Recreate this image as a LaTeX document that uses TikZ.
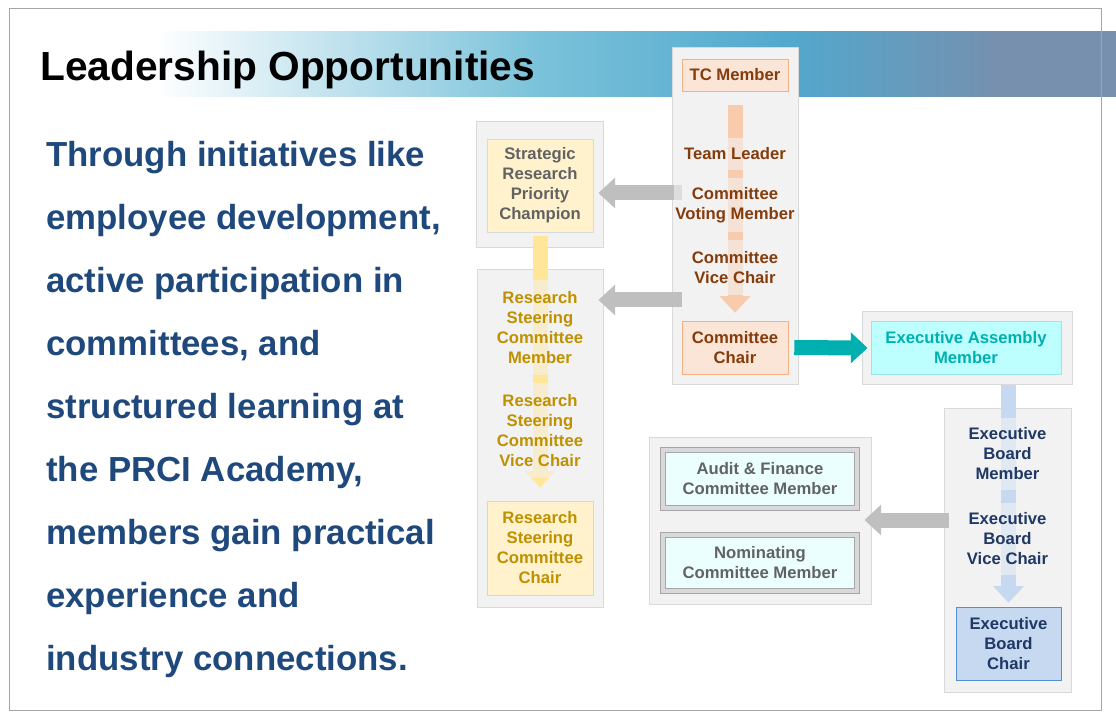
\documentclass[tikz,border=0pt]{standalone}
\usepackage{fontspec}
\setmainfont{Liberation Sans}
\usetikzlibrary{arrows.meta,positioning}

\definecolor{panelfill}{HTML}{F2F2F2}
\definecolor{panelline}{HTML}{D9D9D9}
\definecolor{outerline}{HTML}{A6A6A6}
\definecolor{bodyblue}{HTML}{1F497D}
\definecolor{bannerA}{RGB}{122,194,218}
\definecolor{bannerB}{RGB}{82,168,205}
\definecolor{bannerC}{RGB}{118,144,174}
\definecolor{peachfill}{HTML}{FBE5D6}
\definecolor{peachline}{HTML}{F4B183}
\definecolor{peacharrow}{HTML}{F8CBAD}
\definecolor{peachtext}{HTML}{843C0C}
\definecolor{goldfill}{HTML}{FFF2CC}
\definecolor{goldline}{HTML}{FFD966}
\definecolor{goldarrow}{HTML}{FFE699}
\definecolor{goldtext}{HTML}{BF9000}
\definecolor{tealarrow}{HTML}{00B0B0}
\definecolor{tealfill}{HTML}{BDFFFF}
\definecolor{tealline}{HTML}{99E6E6}
\definecolor{bluefill}{HTML}{C6D9F1}
\definecolor{blueline}{HTML}{558ED5}
\definecolor{bluetext}{HTML}{1F3864}
\definecolor{greyarrow}{HTML}{BFBFBF}
\definecolor{greytext}{HTML}{626262}
\definecolor{cyanfill}{HTML}{EBFFFF}

\pgfdeclarehorizontalshading{bannershade}{100bp}{color(0bp)=(white); color(25bp)=(white); color(45bp)=(bannerA); color(58bp)=(bannerB); color(69bp)=(bannerC); color(100bp)=(bannerC)}

\tikzset{
  panelbox/.style={draw=panelline, fill=panelfill, line width=0.75pt, inner sep=0pt},
  rolebox/.style={font=\fontsize{12.5}{15}\selectfont\bfseries, align=center, inner sep=1pt, minimum width=79.5pt},
  steplabel/.style={rolebox, fill=panelfill, fill opacity=.6, text opacity=1},
  committeebox/.style={rolebox, draw=outerline, line width=0.6pt, double=panelline, double distance=3.3pt, fill=cyanfill, text=greytext},
  blockarrow/.style={line width=11.25pt, -{Triangle[width=23.25pt,length=12.5pt,line width=0pt]}}
}

\begin{document}
\begin{tikzpicture}[x=0.75pt,y=-0.75pt]
\useasboundingbox (0,0) rectangle (1116,723);

% banner and frame
\fill[shading=bannershade] (155,32) rectangle (1116,97);
\draw[outerline, line width=0.75pt] (9,9) rectangle (1101,710);

\node[anchor=base west, inner sep=0pt, font=\fontsize{30.5}{36}\selectfont\bfseries] (title) at (40,81) {Leadership Opportunities};
\node[anchor=north west, inner sep=0pt, align=left, text=bodyblue, font=\fontsize{26.1}{47.25}\selectfont\bfseries] (body) at (46,141)
  {Through initiatives like\\employee development,\\active participation in\\committees, and\\structured learning at\\the PRCI Academy,\\members gain practical\\experience and\\industry connections.};

% panels
\node[panelbox, minimum width=94.5pt, minimum height=252pt] (tcframe) at (735,216) {};
\node[panelbox, minimum width=95.25pt, minimum height=94.5pt] (srframe) at (539.5,185) {};
\node[panelbox, minimum width=94.5pt, minimum height=252.75pt] (rsframe) at (540,438.5) {};
\node[panelbox, minimum width=157.5pt, minimum height=54pt] (eaframe) at (967,348) {};
\node[panelbox, minimum width=95.25pt, minimum height=213pt] (ebframe) at (1007.5,550) {};
\node[panelbox, minimum width=166.5pt, minimum height=125.25pt] (afframe) at (760,520.5) {};

% boxes
\node[rolebox, draw=peachline, fill=peachfill, text=peachtext, minimum height=24pt] (tcm) at (735,75) {TC Member};
\node[rolebox, draw=peachline, fill=peachfill, text=peachtext, minimum height=39.75pt] (chair) at (735,347.5) {Committee\\Chair};
\node[rolebox, draw=panelline, fill=goldfill, text=greytext, minimum height=69.75pt] (src) at (540,185.5) {Strategic\\Research\\Priority\\Champion};
\node[rolebox, draw=goldline, fill=goldfill, text=goldtext, minimum height=70.5pt] (rscchair) at (540,548) {Research\\Steering\\Committee\\Chair};
\node[rolebox, draw=tealline, fill=tealfill, text=tealarrow, minimum width=142.5pt, minimum height=39.75pt] (eam) at (966,347.5) {Executive Assembly\\Member};
\node[rolebox, draw=blueline, fill=bluefill, text=bluetext, minimum width=78.75pt, minimum height=54.75pt] (ebchair) at (1008.5,643.5) {Executive\\Board\\Chair};
\node[committeebox, minimum width=145.5pt, minimum height=43.5pt] (afc) at (760,479) {Audit \& Finance\\Committee Member};
\node[committeebox, minimum width=145.5pt, minimum height=42pt] (ncm) at (760,563) {Nominating\\Committee Member};

% arrows
\coordinate (g1) at (682,193);
\coordinate (g2) at (682,300);
\coordinate (g3) at (949,520);
\path (srframe.east |- g1) ++(-5,0) coordinate (g1e);
\path (rsframe.east |- g2) ++(-5,0) coordinate (g2e);
\path (afframe.east |- g3) ++(-7,0) coordinate (g3e);
\draw[blockarrow, peacharrow] ([yshift=-10.5pt]tcm.south) -- ([yshift=6pt]chair.north);
\draw[blockarrow, goldarrow] ([yshift=-3pt]src.south) -- ([yshift=9.75pt]rscchair.north);
\draw[blockarrow, bluefill] (ebchair.north |- eaframe.south) -- ([yshift=3pt]ebchair.north);
\draw[blockarrow, greyarrow] (g1) -- (g1e);
\draw[blockarrow, greyarrow] (g2) -- (g2e);
\draw[blockarrow, greyarrow] (g3) -- (g3e);
\draw[blockarrow, tealarrow, shorten <=4.5pt] (chair.east) -- ([xshift=4.5pt]eaframe.west);

% steps on the arrows
\node[steplabel, text=peachtext, minimum height=24pt] (tl) at (735,154) {Team Leader};
\node[steplabel, text=peachtext, minimum height=40.5pt] (cvm) at (735,205) {Committee\\Voting Member};
\node[steplabel, text=peachtext, minimum height=41.25pt] (cvc) at (735,267.5) {Committee\\Vice Chair};
\node[steplabel, text=goldtext, minimum height=71.25pt] (rscm) at (540,327.5) {Research\\Steering\\Committee\\Member};
\node[steplabel, text=goldtext, minimum height=71.25pt] (rscv) at (540,430.5) {Research\\Steering\\Committee\\Vice Chair};
\node[steplabel, text=bluetext, minimum height=54pt] (ebm) at (1007.5,454) {Executive\\Board\\Member};
\node[steplabel, text=bluetext, minimum height=54pt] (ebv) at (1007.5,539) {Executive\\Board\\Vice Chair};
\end{tikzpicture}
\end{document}
